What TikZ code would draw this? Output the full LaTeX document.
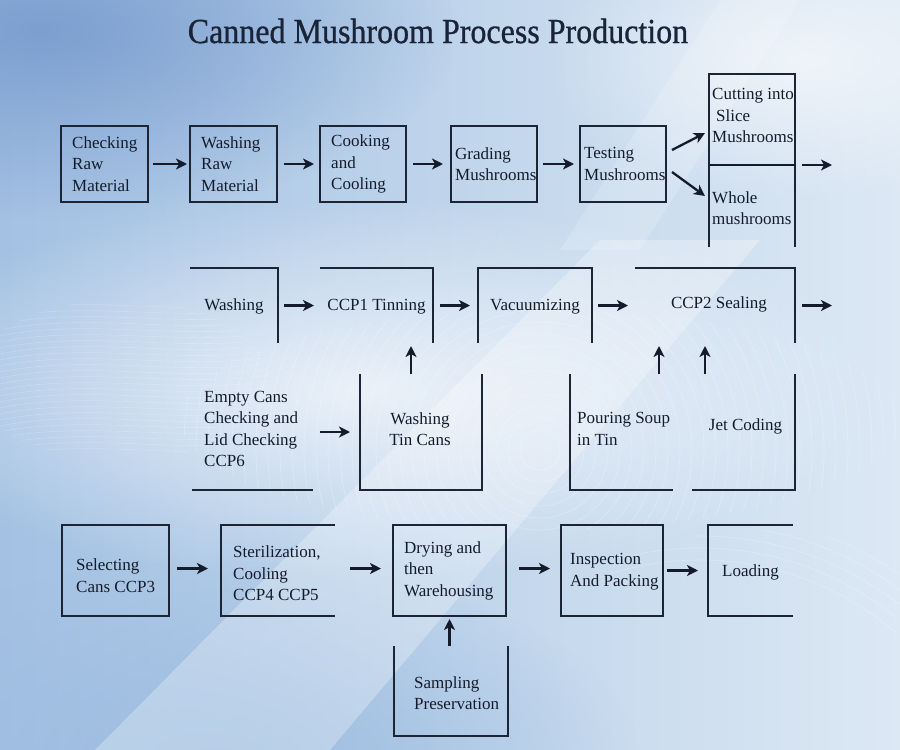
\documentclass[tikz,border=0pt]{standalone}
\usepackage{fontspec}
\usepackage{graphicx}
\setmainfont{Liberation Serif}
\usetikzlibrary{arrows.meta,calc,fadings}
\tikzfading[name=softblob, inner color=transparent!0, outer color=transparent!100]
\definecolor{ink}{HTML}{141C2C}
\definecolor{bdr}{HTML}{1C2535}
\definecolor{titlec}{HTML}{1A2438}
\definecolor{bgL}{HTML}{A3C1E3}
\definecolor{bgR}{HTML}{DCE8F4}
\definecolor{bgD}{HTML}{7C9FD0}
\definecolor{bgB}{HTML}{9CBCE0}
\newcommand{\boxfont}{\fontsize{17pt}{21.5pt}\selectfont}
\begin{document}
\begin{tikzpicture}[x=1pt,y=-1pt,
  box/.style={anchor=north west, inner sep=0pt, outer sep=0pt},
  lbl/.style={font=\boxfont, text=ink, inner sep=0pt, align=left},
  lblc/.style={lbl, align=center},
  bd/.style={draw=bdr, line width=1.3pt},
  arr/.style={-{Stealth[length=11pt,width=11pt,inset=3pt]}, line width=2.3pt, draw=ink}
]
% ---------------- background ----------------
\begin{scope}
\clip (0,0) rectangle (900,750);
\shade[left color=bgL, right color=bgR] (0,0) rectangle (900,750);
\fill[bgD, path fading=softblob] (40,30) ellipse (420pt and 190pt);
\fill[bgB, path fading=softblob] (220,760) ellipse (420pt and 200pt);
\fill[white, opacity=0.7, path fading=softblob] (360,390) ellipse (520pt and 190pt);
\fill[white, opacity=0.6, path fading=softblob] (800,60) ellipse (260pt and 140pt);
\fill[white, opacity=0.28] (95,750) -- (600,240) -- (760,240) -- (330,750) -- cycle;
\fill[white, opacity=0.18] (560,250) -- (720,0) -- (800,0) -- (640,250) -- cycle;
\begin{scope}
\clip (540,420) ellipse (360pt and 110pt);
\foreach \r in {20,32,...,380} \draw[white, opacity=0.25, line width=0.7pt] (540,450) circle (\r pt);
\end{scope}
\begin{scope}
\clip (120,380) ellipse (150pt and 80pt);
\foreach \y in {300,306,...,460} \draw[white, opacity=0.2, line width=0.6pt] (0,\y) .. controls (100,\y-20) and (200,\y+10) .. (300,\y-15);
\end{scope}
\begin{scope}
\clip (760,640) ellipse (200pt and 110pt);
\foreach \r in {300,312,...,420} \draw[white, opacity=0.25, line width=0.7pt] (700,860) circle (\r pt);
\end{scope}
\end{scope}
\useasboundingbox (0,0) rectangle (900,750);

% ---------------- title ----------------
\node[inner sep=0pt, text=titlec] (T) at (438,31) {\scalebox{1}[1.1]{\fontsize{32pt}{38pt}\selectfont\addfontfeatures{FakeBold=0.8}Canned Mushroom Process Production}};

% ---------------- row 1 ----------------
\node[box, minimum width=87pt, minimum height=76pt] (A1) at (61,126) {};
\node[box, minimum width=87pt, minimum height=76pt] (A2) at (190,126) {};
\node[box, minimum width=86pt, minimum height=76pt] (A3) at (320,126) {};
\node[box, minimum width=86pt, minimum height=76pt] (A4) at (451,126) {};
\node[box, minimum width=86pt, minimum height=76pt] (A5) at (580,126) {};
\node[box, minimum width=86pt, minimum height=91pt] (A6a) at (709,74) {};
\node[box, minimum width=86pt, minimum height=82pt] (A6b) at (709,165) {};
\node[lbl, anchor=west] (A1t) at ([xshift=11pt]A1.west) {Checking\\Raw\\Material};
\node[lbl, anchor=west] (A2t) at ([xshift=11pt]A2.west) {Washing\\Raw\\Material};
\node[lbl, anchor=west] (A3t) at ([xshift=11pt]A3.west) {Cooking\\and\\Cooling};
\node[lbl, anchor=west] (A4t) at ([xshift=4pt]A4.west) {Grading\\Mushrooms};
\node[lbl, anchor=west] (A5t) at ([xshift=4pt]A5.west) {Testing\\Mushrooms};
\node[lbl, anchor=west] (A6at) at ([shift={(3,-4)}]A6a.west) {Cutting into\\\hspace*{4pt}Slice\\Mushrooms};
\node[lbl, anchor=west] (A6bt) at ([shift={(3,2)}]A6b.west) {Whole\\mushrooms};
\foreach \n in {A1,A2,A3,A4,A5} \draw[bd] (\n.north west) rectangle (\n.south east);
\draw[bd] (A6b.south west) -- (A6a.north west) -- (A6a.north east) -- (A6b.south east);
\draw[draw=ink, line width=2.6pt] (A6a.south west) -- (A6a.south east);

\draw[arr, shorten <=5pt, shorten >=3pt] (A1.east) -- (A2.west);
\draw[arr, shorten <=7pt, shorten >=6pt] (A2.east) -- (A3.west);
\draw[arr, shorten <=7pt, shorten >=8pt] (A3.east) -- (A4.west);
\draw[arr, shorten <=6pt, shorten >=6pt] (A4.east) -- (A5.west);
\draw[arr] ([shift={(6,-14)}]A5.east) -- ([shift={(-4,-32)}]A6b.north west);
\draw[arr] ([shift={(6,8)}]A5.east) -- ([shift={(-4,31)}]A6b.north west);
\coordinate (E1) at (832,165);
\draw[arr, shorten <=7pt] (A6a.south east) -- (E1);

% ---------------- row 2 ----------------
\node[box, minimum width=88pt, minimum height=75pt] (B1) at (190,268) {};
\node[box, minimum width=113pt, minimum height=75pt] (B2) at (320,268) {};
\node[box, minimum width=114pt, minimum height=75pt] (B3) at (478,268) {};
\node[box, minimum width=160pt, minimum height=75pt] (B4) at (635,268) {};
\node[lblc] (B1t) at ([yshift=-1pt]B1.center) {Washing};
\node[lblc] (B2t) at ([yshift=-1pt]B2.center) {CCP1 Tinning};
\node[lblc] (B3t) at ([yshift=-1pt]B3.center) {Vacuumizing};
\node[lblc] (B4t) at ([shift={(4,-1)}]B4.center) {CCP2 Sealing};
\draw[bd] (B1.north west) -- (B1.north east) -- (B1.south east);
\draw[bd] (B2.north west) -- (B2.north east) -- (B2.south east);
\draw[bd] (B3.south west) -- (B3.north west) -- (B3.north east) -- (B3.south east);
\draw[bd] (B4.north west) -- (B4.north east) -- (B4.south east);

\draw[arr, shorten <=6pt, shorten >=6pt] (B1.east) -- (B2.west);
\draw[arr, shorten <=7pt, shorten >=8pt] (B2.east) -- (B3.west);
\draw[arr, shorten <=6pt, shorten >=7pt] (B3.east) -- (B4.west);
\coordinate (E2) at (832,305.5);
\draw[arr, shorten <=7pt] (B4.east) -- (E2);

% ---------------- row 2, lower ----------------
\node[box, minimum width=121pt, minimum height=116pt] (C1) at (192,374) {};
\node[box, minimum width=122pt, minimum height=116pt] (C2) at (360,374) {};
\node[box, minimum width=103pt, minimum height=116pt] (C3) at (570,374) {};
\node[box, minimum width=103pt, minimum height=116pt] (C4) at (692,374) {};
\node[lbl, anchor=west] (C1t) at ([shift={(12,-3)}]C1.west) {Empty Cans\\Checking and\\Lid Checking\\CCP6};
\node[lblc] (C2t) at ([shift={(-1,-3)}]C2.center) {Washing\\Tin Cans};
\node[lbl, anchor=west] (C3t) at ([shift={(7,-3)}]C3.west) {Pouring Soup\\in Tin};
\node[lblc] (C4t) at ([shift={(2,-6)}]C4.center) {Jet Coding};
\draw[bd] (C1.south west) -- (C1.south east);
\draw[bd] (C2.north west) -- (C2.south west) -- (C2.south east) -- (C2.north east);
\draw[bd] (C3.north west) -- (C3.south west) -- (C3.south east);
\draw[bd] (C4.south west) -- (C4.south east) -- (C4.north east);

\draw[arr, shorten <=7pt, shorten >=10pt] (C1.east) -- (C2.west);
\draw[arr, shorten >=3pt] ([xshift=-10pt]C2.north) -- ([xshift=-10pt]C2.north |- B2.south);
\draw[arr, shorten >=3pt] ([xshift=-14pt]C3.north east) -- ([xshift=-14pt]C3.north east |- B4.south);
\draw[arr, shorten >=3pt] ([xshift=13pt]C4.north west) -- ([xshift=13pt]C4.north west |- B4.south);

% ---------------- row 3 ----------------
\node[box, minimum width=107pt, minimum height=91pt] (D1) at (62,525) {};
\node[box, minimum width=114pt, minimum height=91pt] (D2) at (221,525) {};
\node[box, minimum width=113pt, minimum height=91pt] (D3) at (393,525) {};
\node[box, minimum width=102pt, minimum height=91pt] (D4) at (561,525) {};
\node[box, minimum width=85pt, minimum height=91pt] (D5) at (708,525) {};
\node[box, minimum width=114pt, minimum height=90pt] (D6) at (394,646) {};
\node[lbl, anchor=west] (D1t) at ([shift={(14,5)}]D1.west) {Selecting\\Cans CCP3};
\node[lbl, anchor=west] (D2t) at ([shift={(12,3)}]D2.west) {Sterilization,\\Cooling\\CCP4 CCP5};
\node[lbl, anchor=west] (D3t) at ([shift={(11,0)}]D3.west) {Drying and\\then\\Warehousing};
\node[lbl, anchor=west] (D4t) at ([shift={(9,1)}]D4.west) {Inspection\\And Packing};
\node[lblc] (D5t) at ([yshift=-2pt]D5.center) {Loading};
\node[lbl, anchor=west] (D6t) at ([shift={(20,2)}]D6.west) {Sampling\\Preservation};
\foreach \n in {D1,D3,D4} \draw[bd] (\n.north west) rectangle (\n.south east);
\draw[bd] (D2.north east) -- (D2.north west) -- (D2.south west) -- (D2.south east);
\draw[bd] (D5.north east) -- (D5.north west) -- (D5.south west) -- (D5.south east);
\draw[bd] (D6.north west) -- (D6.south west) -- (D6.south east) -- (D6.north east);

\draw[arr, shorten <=8pt, shorten >=13pt] ([yshift=2pt]D1.east) -- ([yshift=2pt]D2.west);
\draw[arr, shorten <=15pt, shorten >=12pt] ([yshift=2pt]D2.east) -- ([yshift=2pt]D3.west);
\draw[arr, shorten <=13pt, shorten >=11pt] ([yshift=2pt]D3.east) -- ([yshift=2pt]D4.west);
\draw[arr, shorten <=4pt, shorten >=10pt] (D4.east) -- (D5.west);
\draw[arr, shorten >=3pt] (D3.south |- D6.north) -- (D3.south);
\end{tikzpicture}
\end{document}
